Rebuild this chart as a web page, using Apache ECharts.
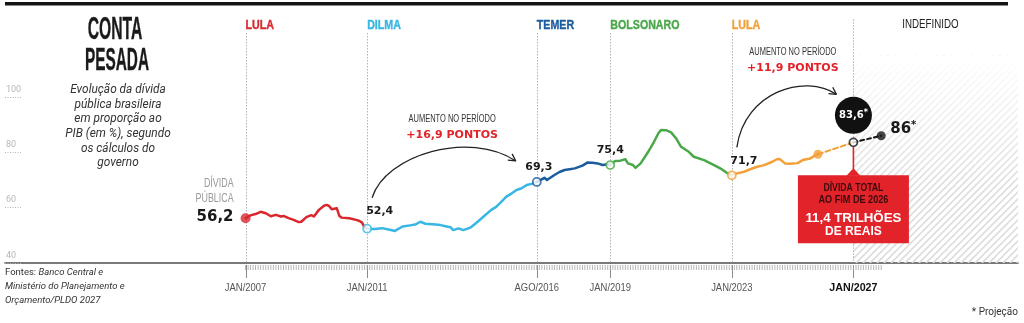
<!DOCTYPE html>
<html lang="pt-BR">
<head>
<meta charset="utf-8">
<title>Conta pesada</title>
<script src="https://cdn.jsdelivr.net/npm/echarts@6.0.0/dist/echarts.min.js"></script>
<style>
  html, body { margin: 0; padding: 0; background: #fff; }
  #chart { width: 1024px; height: 323px; }
</style>
</head>
<body>
<div id="chart"></div>
<script>
// Dívida bruta do governo geral, % do PIB, por mandato
const lula1 = [
  ['2007-01', 56.2], ['2007-03', 57.2], ['2007-05', 57.7], ['2007-07', 58.5], ['2007-09', 58.0],
  ['2007-11', 56.9], ['2008-01', 57.4], ['2008-03', 56.8], ['2008-04', 57.0], ['2008-06', 56.2],
  ['2008-08', 55.6], ['2008-10', 54.8], ['2008-11', 54.9], ['2009-01', 56.6], ['2009-03', 57.3],
  ['2009-04', 56.8], ['2009-06', 59.2], ['2009-08', 60.7], ['2009-09', 61.0], ['2009-10', 60.6],
  ['2009-11', 59.4], ['2010-01', 59.8], ['2010-02', 57.0], ['2010-03', 56.4], ['2010-06', 56.2],
  ['2010-09', 55.5], ['2010-10', 55.2], ['2010-11', 54.6], ['2010-12', 52.9], ['2011-01', 52.4]
];
const dilma = [
  ['2011-01', 52.4], ['2011-04', 52.3], ['2011-07', 52.6], ['2011-10', 52.0], ['2011-12', 51.6],
  ['2012-03', 53.2], ['2012-06', 53.6], ['2012-08', 53.9], ['2012-10', 54.9], ['2012-12', 54.2],
  ['2013-03', 54.0], ['2013-06', 53.7], ['2013-08', 53.3], ['2013-10', 52.9], ['2013-11', 51.9],
  ['2014-01', 52.5], ['2014-03', 51.9], ['2014-06', 52.9], ['2014-09', 55.2], ['2014-11', 56.8],
  ['2015-02', 59.2], ['2015-04', 60.3], ['2015-06', 62.1], ['2015-08', 64.0], ['2015-10', 65.1],
  ['2015-12', 66.4], ['2016-02', 67.0], ['2016-04', 68.2], ['2016-06', 68.6], ['2016-08', 69.3]
];
const temer = [
  ['2016-08', 69.3], ['2016-11', 70.8], ['2016-12', 70.0], ['2017-03', 71.8], ['2017-05', 72.9],
  ['2017-07', 73.6], ['2017-09', 73.9], ['2017-11', 74.2], ['2018-02', 75.2], ['2018-04', 76.3],
  ['2018-06', 76.2], ['2018-08', 76.0], ['2018-10', 75.4], ['2018-12', 75.7], ['2019-01', 75.4]
];
const bolsonaro = [
  ['2019-01', 75.4], ['2019-03', 76.9], ['2019-05', 77.0], ['2019-07', 77.5], ['2019-08', 76.0],
  ['2019-10', 75.4], ['2019-11', 74.4], ['2020-01', 76.0], ['2020-04', 80.2], ['2020-06', 83.3],
  ['2020-08', 86.9], ['2020-09', 88.1], ['2020-11', 88.0], ['2021-01', 87.2], ['2021-03', 85.1],
  ['2021-05', 82.0], ['2021-08', 80.2], ['2021-10', 78.4], ['2022-02', 77.2], ['2022-06', 75.4],
  ['2022-09', 73.9], ['2022-11', 72.6], ['2023-01', 71.7]
];
const lula2 = [
  ['2023-01', 71.7], ['2023-03', 72.4], ['2023-06', 73.0], ['2023-08', 73.8], ['2023-11', 74.8],
  ['2024-01', 75.2], ['2024-03', 75.8], ['2024-05', 76.6], ['2024-07', 77.6], ['2024-08', 77.5],
  ['2024-10', 76.0], ['2024-12', 75.9], ['2025-03', 76.1], ['2025-05', 77.2], ['2025-08', 77.8],
  ['2025-10', 78.9], ['2025-11', 79.3]
];
// Projeções (PLDO 2027)
const projLula = [['2025-11', 79.3], ['2027-01', 83.6]];
const projNext = [['2027-01', 83.6], ['2027-12', 86]];

const yTicks = [40, 60, 80, 100];

const periods = [
  { name: 'LULA',      start: '2007-01', color: '#d9272e' },
  { name: 'DILMA',     start: '2011-01', color: '#38b6e4' },
  { name: 'TEMER',     start: '2016-08', color: '#1b5c9e' },
  { name: 'BOLSONARO', start: '2019-01', color: '#4aa84b' },
  { name: 'LULA',      start: '2023-01', color: '#f3a038' }
];
const horizon = { name: 'INDEFINIDO', start: '2027-01' };

const axisDates = [
  { date: '2007-01', label: 'JAN/2007' },
  { date: '2011-01', label: 'JAN/2011' },
  { date: '2016-08', label: 'AGO/2016' },
  { date: '2019-01', label: 'JAN/2019' },
  { date: '2023-01', label: 'JAN/2023' },
  { date: '2027-01', label: 'JAN/2027', strong: true }
];
const tickRange = ['2007-01', '2027-12'];
const axisRange = ['1999-02', '2032-06'];

const total2026 = { head: ['DÍVIDA TOTAL', 'AO FIM DE 2026'], value: '11,4 TRILHÕES', unit: 'DE REAIS' };

// ---------------------------------------------------------------
const SANS = "'Liberation Sans', Arial, sans-serif";
const WIDE = "'DejaVu Sans', sans-serif";
const HUMAN = "Roboto, 'Noto Sans', sans-serif";
const INK = '#161616';
const BOX_RED = '#e2232a';

function ts(s) { const [y, m] = s.split('-').map(Number); return new Date(y, m - 1, 1).getTime(); }
const toPts = arr => arr.map(([d, v]) => [ts(d), v]);
const fmt = v => (Number.isInteger(v) ? String(v) : v.toFixed(1)).replace('.', ',');
const yMin = yTicks[0], yMax = yTicks[yTicks.length - 1];

const months = [];
{
  let [y, m] = tickRange[0].split('-').map(Number);
  const [ye, me] = tickRange[1].split('-').map(Number);
  while (y < ye || (y === ye && m <= me)) {
    months.push([new Date(y, m - 1, 1).getTime(), yMin]);
    m++; if (m > 12) { m = 1; y++; }
  }
}

function line(name, data, color, dash) {
  return {
    type: 'line', name, data: toPts(data), symbol: 'none', z: 3, silent: true,
    lineStyle: { color, width: dash ? 2 : 2.5, type: dash || 'solid', cap: 'round', join: 'round' }
  };
}
function openDot(pt, color) {
  return { value: [ts(pt[0]), pt[1]], symbolSize: 8,
    itemStyle: { color: '#fff', borderColor: color, borderWidth: 1.8 } };
}
function solidDot(pt, color, size) {
  return { value: [ts(pt[0]), pt[1]], symbolSize: size, itemStyle: { color } };
}

const chart = echarts.init(document.getElementById('chart'), null, { renderer: 'canvas' });

const option = {
  animation: false,
  backgroundColor: '#fff',
  grid: { left: 5, right: 6, top: 97, bottom: 60, containLabel: false, outerBoundsMode: 'none' },
  xAxis: {
    type: 'time', min: ts(axisRange[0]), max: ts(axisRange[1]),
    axisLine: { show: true, lineStyle: { color: '#4d4d4d', width: 1.6 } },
    axisTick: { show: false }, axisLabel: { show: false }, splitLine: { show: false }
  },
  yAxis: {
    type: 'value', min: yMin, max: yMax, interval: 20,
    axisLine: { show: false },
    axisTick: { show: true, inside: true, length: 17, lineStyle: { color: '#b5b5b5', type: [1, 1.5] } },
    axisLabel: { inside: true, margin: 1, color: '#b8b8b8', fontSize: 9, fontFamily: HUMAN,
      verticalAlign: 'bottom', padding: [0, 0, 3, 0] },
    splitLine: { show: false }
  },
  series: [
    {
      type: 'custom', name: 'horizonte', z: 1, silent: true,
      data: [[ts(horizon.start), yMin]],
      renderItem(params, api) {
        const t = api.value(0);
        const [x0, yb] = api.coord([t, yMin]);
        const yt = api.coord([t, 115])[1];
        const cs = params.coordSys;
        const x1 = cs.x + cs.width;
        const h = yb - yt;
        const kids = [];
        for (let x = x0 - h; x < x1; x += 7) {
          kids.push({ type: 'line', shape: { x1: x, y1: yb, x2: x + h, y2: yt },
            style: { stroke: '#dcdcdc', lineWidth: 1.7 } });
        }
        kids.push({ type: 'rect', shape: { x: x0, y: yt, width: x1 - x0, height: h },
          style: { fill: new echarts.graphic.LinearGradient(0, 0, 0, 1, [
            { offset: 0, color: 'rgba(255,255,255,1)' },
            { offset: 0.65, color: 'rgba(255,255,255,0)' }]) } });
        return { type: 'group', clipPath: { type: 'rect', shape: { x: x0, y: yt, width: x1 - x0, height: h } }, children: kids };
      }
    },
    {
      type: 'custom', name: 'marcos', z: 2, silent: true,
      data: periods.map(p => [ts(p.start), yMin]).concat([[ts(horizon.start), yMin]]),
      renderItem(params, api) {
        const t = api.value(0);
        const [x, ya] = api.coord([t, yMin]);
        const top = params.dataIndex === periods.length ? 128 : 123;
        const yt = api.coord([t, top])[1];
        const xr = Math.round(x) + 0.5;
        return { type: 'group', children: [
          { type: 'line', shape: { x1: xr, y1: yt, x2: xr, y2: ya }, style: { stroke: '#8c8c8c', lineWidth: 1, lineDash: [1, 2] } },
          { type: 'line', shape: { x1: xr, y1: ya + 2, x2: xr, y2: ya + 15 }, style: { stroke: '#8c8c8c', lineWidth: 1 } }
        ] };
      }
    },
    {
      type: 'custom', name: 'meses', z: 2, silent: true,
      data: months,
      renderItem(params, api) {
        const [x, y] = api.coord([api.value(0), yMin]);
        return { type: 'line', shape: { x1: x, y1: y + 2, x2: x, y2: y + 7 }, style: { stroke: '#a3a3a3', lineWidth: 0.8 } };
      }
    },
    line('Lula 2007-2010', lula1, periods[0].color),
    line('Dilma', dilma, periods[1].color),
    line('Temer', temer, periods[2].color),
    line('Bolsonaro', bolsonaro, periods[3].color),
    line('Lula 2023-', lula2, periods[4].color),
    line('Projeção 2026', projLula, periods[4].color, [5, 3]),
    line('Projeção 2027', projNext, INK, [4, 3]),
    {
      type: 'scatter', name: 'pontos', z: 5, silent: true,
      data: [
        solidDot(lula1[0], periods[0].color, 10),
        openDot(dilma[0], periods[1].color),
        openDot(temer[0], periods[2].color),
        openDot(bolsonaro[0], periods[3].color),
        openDot(lula2[0], periods[4].color),
        solidDot(projLula[0], periods[4].color, 9),
        openDot(projNext[0], INK),
        solidDot(projNext[1], INK, 9)
      ]
    }
  ]
};
chart.setOption(option);

// --- anotações posicionadas a partir das escalas do gráfico ---
const P = (d, v) => chart.convertToPixel({ gridIndex: 0 }, [ts(d), v]);
const axisY = P(tickRange[0], yMin)[1];
const gridRight = 1024 - 6;
const G = [];
function txt(x, y, text, o) {
  G.push({
    type: 'text', x, y, z: 60, scaleX: o.sx || 1, silent: true,
    style: {
      text, fill: o.fill || INK, fontSize: o.size, fontWeight: o.weight || 'normal',
      fontStyle: o.style || 'normal', fontFamily: o.family || SANS,
      align: o.align || 'left', verticalAlign: o.va || 'middle', lineHeight: o.lh, rich: o.rich,
      stroke: o.stroke ? (o.fill || INK) : null, lineWidth: o.stroke || 0
    }
  });
}

// cabeçalho
G.push({ type: 'rect', z: 60, shape: { x: 5, y: 2, width: 1003, height: 3.5 }, style: { fill: '#141414' } });
txt(115, 30, 'CONTA', { size: 32, weight: 'bold', align: 'center', sx: 0.49, fill: '#1a1a1a', stroke: 0.4 });
txt(117, 61.3, 'PESADA', { size: 32, weight: 'bold', align: 'center', sx: 0.48, fill: '#1a1a1a', stroke: 0.4 });
txt(118, 82.5, 'Evolução da dívida\npública brasileira\nem proporção ao\nPIB (em %), segundo\nos cálculos do\ngoverno',
  { size: 12.5, style: 'italic', family: HUMAN, align: 'center', va: 'top', lh: 14.7, fill: '#333', sx: 0.95 });

// nomes dos mandatos
periods.forEach(p => {
  txt(P(p.start, yMin)[0], 25, p.name, { size: 13, weight: 'bold', fill: p.color, sx: 0.82, stroke: 0.4 });
});
txt(P(horizon.start, yMin)[0] + 77, 25, horizon.name, { size: 12.5, fill: '#222', align: 'center', sx: 0.78 });

// datas do eixo
axisDates.forEach(a => {
  txt(P(a.date, yMin)[0], axisY + 25, a.label, a.strong
    ? { size: 11.5, weight: 'bold', fill: '#111', align: 'center', sx: 0.93 }
    : { size: 11.5, fill: '#555', align: 'center', sx: 0.82 });
});

// valores nos pontos de troca
const s0 = P(...lula1[0]);
txt(s0[0] - 12, s0[1] - 34, 'DÍVIDA', { size: 12, fill: '#9a9a9a', align: 'right', sx: 0.74 });
txt(s0[0] - 12, s0[1] - 19, 'PÚBLICA', { size: 12, fill: '#9a9a9a', align: 'right', sx: 0.74 });
txt(s0[0] - 12, s0[1] - 1, fmt(lula1[0][1]), { size: 15, weight: 'bold', family: WIDE, align: 'right', fill: '#1a1a1a' });
const pD = P(...dilma[0]), pT = P(...temer[0]), pB = P(...bolsonaro[0]), pL = P(...lula2[0]);
txt(pD[0] - 1, pD[1] - 18, fmt(dilma[0][1]), { size: 11, weight: 'bold', family: WIDE, fill: '#1a1a1a' });
txt(pT[0] + 2, pT[1] - 15, fmt(temer[0][1]), { size: 11, weight: 'bold', family: WIDE, align: 'center', fill: '#1a1a1a' });
txt(pB[0], pB[1] - 15, fmt(bolsonaro[0][1]), { size: 11, weight: 'bold', family: WIDE, align: 'center', fill: '#1a1a1a' });
txt(pL[0] - 1.5, pL[1] - 14, fmt(lula2[0][1]), { size: 11, weight: 'bold', family: WIDE, fill: '#1a1a1a' });

// setas de aumento no período
function gain(fromPt, toPt, p0off, p3off, c1, c2, textDx) {
  const a = P(...fromPt), b = P(...toPt);
  const p0 = [a[0] + p0off[0], a[1] + p0off[1]];
  const p3 = [b[0] + p3off[0], b[1] + p3off[1]];
  const p1 = [p0[0] + c1[0], p0[1] + c1[1]];
  const p2 = [p3[0] + c2[0], p3[1] + c2[1]];
  G.push({ type: 'bezierCurve', z: 60, silent: true,
    shape: { x1: p0[0], y1: p0[1], cpx1: p1[0], cpy1: p1[1], cpx2: p2[0], cpy2: p2[1], x2: p3[0], y2: p3[1] },
    style: { stroke: '#222', lineWidth: 1.3, fill: null } });
  const ang = Math.atan2(p3[1] - p2[1], p3[0] - p2[0]);
  [0.5, -0.5].forEach(da => {
    const t = ang + Math.PI + da;
    G.push({ type: 'line', z: 60, silent: true,
      shape: { x1: p3[0], y1: p3[1], x2: p3[0] + 8 * Math.cos(t), y2: p3[1] + 8 * Math.sin(t) },
      style: { stroke: '#222', lineWidth: 1.3 } });
  });
  const diff = '+' + fmt(Math.round((toPt[1] - fromPt[1]) * 10) / 10) + ' PONTOS';
  txt(p0[0] + textDx, p3[1] - 42, 'AUMENTO NO PERÍODO', { size: 11, fill: '#333', align: 'center', sx: 0.68 });
  txt(p0[0] + textDx, p3[1] - 26, diff, { size: 11, weight: 'bold', family: WIDE, fill: BOX_RED, align: 'center' });
}
gain(dilma[0], temer[0], [5, -31], [-21, -21], [13, -43], [-46, -31], 80);
gain(lula2[0], projNext[0], [5, -28], [-17, -48], [8, -56], [-31, -21], 56);

// projeção para o fim de 2026
const c = P(...projNext[0]);
G.push({ type: 'circle', z: 60, shape: { cx: c[0], cy: c[1] - 27, r: 18.5 }, style: { fill: '#111' } });
txt(c[0], c[1] - 27, '{n|' + fmt(projNext[0][1]) + '}{a|*}', { size: 10, weight: 'bold', family: WIDE, fill: '#fff', align: 'center',
  rich: { n: { fontSize: 10, fontWeight: 'bold', fontFamily: WIDE, fill: '#fff' },
          a: { fontSize: 8, fontWeight: 'bold', fontFamily: WIDE, fill: '#fff', padding: [0, 0, 4, 0] } } });
G.push({ type: 'line', z: 60, shape: { x1: c[0], y1: c[1] + 4.5, x2: c[0], y2: c[1] + 27 }, style: { stroke: BOX_RED, lineWidth: 1.6 } });
G.push({ type: 'polygon', z: 60, shape: { points: [[c[0] - 7, c[1] + 33.5], [c[0], c[1] + 26], [c[0] + 7, c[1] + 33.5]] }, style: { fill: BOX_RED } });
G.push({ type: 'rect', z: 60, shape: { x: c[0] - 55.5, y: c[1] + 33, width: 111, height: 68 }, style: { fill: BOX_RED } });
txt(c[0], c[1] + 45.5, total2026.head[0], { size: 11, weight: 'bold', fill: '#3d0a0c', align: 'center', sx: 0.79 });
txt(c[0], c[1] + 57.5, total2026.head[1], { size: 11, weight: 'bold', fill: '#3d0a0c', align: 'center', sx: 0.83 });
txt(c[0], c[1] + 76, total2026.value, { size: 13.3, weight: 'bold', fill: '#fff', align: 'center' });
txt(c[0], c[1] + 89.5, total2026.unit, { size: 12, weight: 'bold', fill: '#fff', align: 'center' });

// projeção para o fim de 2027
const d = P(...projNext[1]);
txt(d[0] + 9, d[1] - 7, '{n|' + fmt(projNext[1][1]) + '}{a|*}', { size: 15, weight: 'bold', family: WIDE,
  rich: { n: { fontSize: 15, fontWeight: 'bold', fontFamily: WIDE, fill: '#1a1a1a' },
          a: { fontSize: 10, fontWeight: 'bold', fontFamily: WIDE, fill: '#1a1a1a', padding: [0, 0, 6, 0] } } });

// rodapé
txt(5, 287, '{r|Fontes:} {i|Banco Central e}\n{i|Ministério do Planejamento e}\n{i|Orçamento/PLDO 2027}',
  { size: 9.5, family: HUMAN, fill: '#333', lh: 14,
    rich: { r: { fontSize: 9.5, fontFamily: HUMAN, fill: '#333', lineHeight: 14 },
            i: { fontSize: 9.5, fontFamily: HUMAN, fontStyle: 'italic', fill: '#333', lineHeight: 14 } } });
txt(gridRight, 312, '* Projeção', { size: 10, family: HUMAN, fill: '#333', align: 'right' });

chart.setOption({ graphic: { elements: G } });
</script>
</body>
</html>
